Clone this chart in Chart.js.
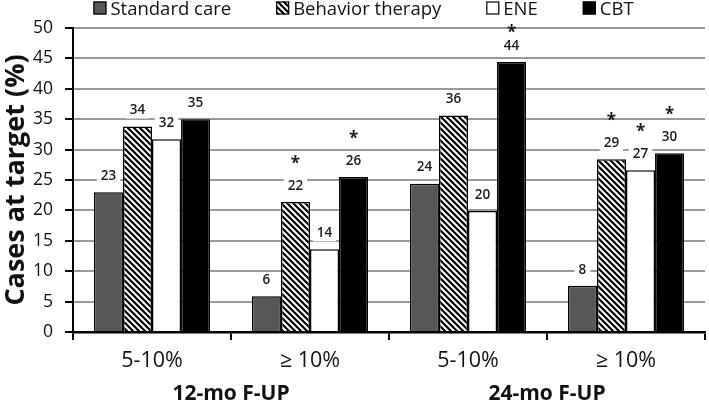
<!DOCTYPE html>
<html><head><meta charset="utf-8">
<script src="https://cdn.jsdelivr.net/npm/chart.js@4.4.1/dist/chart.umd.min.js"></script>
<style>html,body{margin:0;padding:0;background:#fff}#wrap{width:709px;height:400px;position:relative}</style>
</head><body><div id="wrap"><canvas id="c" width="709" height="400"></canvas></div>
<script>
const categories = ['5-10%', '≥ 10%', '5-10%', '≥ 10%'];
const groups = ['12-mo F-UP', '24-mo F-UP'];
const seriesNames = ['Standard care', 'Behavior therapy', 'ENE', 'CBT'];
const standardCare = [23.0, 5.9, 24.4, 7.6];
const behaviorTherapy = [33.8, 21.4, 35.6, 28.4];
const ene = [31.7, 13.6, 19.9, 26.6];
const cbt = [35.0, 25.5, 44.4, 29.4];
const standardCareLabels = ['23', '6', '24', '8'];
const behaviorTherapyLabels = ['34', '22', '36', '29'];
const eneLabels = ['32', '14', '20', '27'];
const cbtLabels = ['35', '26', '44', '30'];
const standardCareStars = [false, false, false, false];
const behaviorTherapyStars = [false, true, false, true];
const eneStars = [false, false, false, true];
const cbtStars = [false, true, true, true];
const yMin = 0, yMax = 50, yStep = 5;

const FONT = "'Open Sans', 'Liberation Sans', sans-serif";

function hatch() {
  const s = 6;
  const cv = document.createElement('canvas');
  cv.width = s; cv.height = s;
  const g = cv.getContext('2d');
  g.fillStyle = '#fff'; g.fillRect(0, 0, s, s);
  g.strokeStyle = '#000'; g.lineWidth = 2.2;
  g.beginPath();
  g.moveTo(-1, -1); g.lineTo(s + 1, s + 1);
  g.moveTo(-1, s - 1); g.lineTo(1, s + 1);
  g.moveTo(s - 1, -1); g.lineTo(s + 1, 1);
  g.stroke();
  return g.createPattern(cv, 'repeat');
}
const ctx = document.getElementById('c').getContext('2d');
const hatchPattern = hatch();

const fills = ['#575757', hatchPattern, '#ffffff', '#000000'];
const seriesValues = [standardCare, behaviorTherapy, ene, cbt];
const seriesLabels = [standardCareLabels, behaviorTherapyLabels, eneLabels, cbtLabels];
const seriesStars = [standardCareStars, behaviorTherapyStars, eneStars, cbtStars];

const datasets = seriesNames.map((n, i) => ({
  label: n,
  data: seriesValues[i],
  valueLabels: seriesLabels[i],
  stars: seriesStars[i],
  backgroundColor: fills[i],
  borderColor: '#000',
  borderWidth: 1.5,
  borderSkipped: 'bottom',
  categoryPercentage: 0.735,
  barPercentage: 1.0
}));

const legendPlugin = {
  id: 'customLegend',
  afterDraw(chart) {
    const c = chart.ctx;
    c.save();
    c.font = `18.5px ${FONT}`;
    c.textBaseline = 'middle';
    const box = 13, gapText = 4, gapItem = 45;
    const ds = chart.data.datasets;
    const widths = ds.map(d => c.measureText(d.label).width);
    let total = 0;
    widths.forEach((w, i) => { total += box + gapText + w + (i < ds.length - 1 ? gapItem : 0); });
    let x = 363.5 - total / 2;
    ds.forEach((d, i) => {
      c.fillStyle = d.backgroundColor;
      c.fillRect(x, 1.5, box, box);
      c.strokeStyle = '#000'; c.lineWidth = 1.2;
      c.strokeRect(x + 0.5, 2, box - 1, box - 1);
      c.fillStyle = '#111';
      c.fillText(d.label, x + box + gapText, 10);
      x += box + gapText + widths[i] + gapItem;
    });
    c.restore();
  }
};

const valuePlugin = {
  id: 'valueLabels',
  afterDatasetsDraw(chart) {
    const c = chart.ctx;
    c.save();
    chart.data.datasets.forEach((d, i) => {
      const meta = chart.getDatasetMeta(i);
      meta.data.forEach((bar, j) => {
        const txt = d.valueLabels[j];
        const ly = bar.y - 16;
        c.font = `600 13.5px ${FONT}`;
        const w = c.measureText(txt).width;
        c.fillStyle = '#fff';
        c.fillRect(bar.x - w / 2 - 4, ly - 8, w + 8, 16);
        c.fillStyle = '#1a1a1a';
        c.textAlign = 'center';
        c.textBaseline = 'middle';
        c.fillText(txt, bar.x, ly);
        if (d.stars[j]) {
          c.font = `bold 17px ${FONT}`;
          const m = c.measureText('*');
          const sy = Math.max(ly - 22, chart.chartArea.top + 5);
          c.textBaseline = 'alphabetic';
          c.fillText('*', bar.x, sy + (m.actualBoundingBoxAscent - m.actualBoundingBoxDescent) / 2);
        }
      });
    });
    c.restore();
  }
};

new Chart(ctx, {
  type: 'bar',
  data: { labels: categories, datasets },
  options: {
    responsive: false,
    animation: false,
    devicePixelRatio: 1,
    layout: { padding: { top: 28, right: 4, left: 0, bottom: 0 } },
    plugins: { legend: { display: false }, tooltip: { enabled: false } },
    scales: {
      y: {
        min: yMin, max: yMax,
        ticks: { stepSize: yStep, font: { family: FONT, size: 17.5 }, color: '#111', padding: 12 },
        grid: { color: '#9a9a9a', lineWidth: 2, tickColor: '#000', tickLength: 8, tickWidth: 2 },
        border: { color: '#000', width: 2 },
        title: { display: true, text: 'Cases at target (%)', font: { family: FONT, size: 27, weight: 'bold' }, color: '#111', padding: { top: 0, bottom: 0 } },
        afterFit(s) { s.width = 73; }
      },
      x: {
        type: 'category',
        offset: true,
        grid: { offset: true, drawOnChartArea: false, drawTicks: true, tickLength: 8, color: '#000', lineWidth: 2 },
        border: { color: '#000', width: 2.5 },
        ticks: { font: { family: FONT, size: 21.5 }, color: '#111', padding: 8, maxRotation: 0, autoSkip: false },
        afterFit(s) { s.height = 42; }
      },
      x2: {
        type: 'category',
        position: 'bottom',
        labels: groups,
        offset: true,
        grid: { display: false, drawTicks: false },
        border: { display: false },
        ticks: { font: { family: FONT, size: 21, weight: 'bold' }, color: '#111', padding: 7, maxRotation: 0, autoSkip: false },
        afterFit(s) { s.height = 26; }
      }
    }
  },
  plugins: [legendPlugin, valuePlugin]
});
</script>
</body></html>
